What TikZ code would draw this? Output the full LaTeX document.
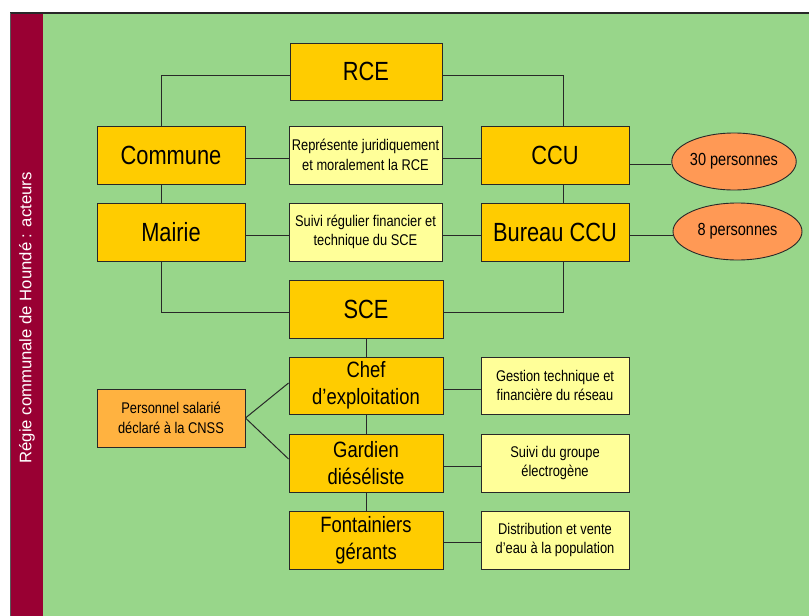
\documentclass[tikz,border=0pt]{standalone}
\usepackage{fontspec}
\setmainfont{Liberation Sans}
\newfontfamily\nf[FakeStretch=0.83]{Liberation Sans}
\usetikzlibrary{shapes.geometric,calc}
\definecolor{bggreen}{RGB}{152,214,138}
\definecolor{maroon}{RGB}{153,0,51}
\definecolor{gold}{RGB}{255,204,0}
\definecolor{lyellow}{RGB}{255,255,153}
\definecolor{porange}{RGB}{255,178,64}
\definecolor{eorange}{RGB}{255,153,85}
\definecolor{edge}{RGB}{40,40,40}
\tikzset{
  bigbox/.style={draw=edge,line width=0.9pt,fill=gold,minimum width=150pt,minimum height=57pt,inner sep=0pt,align=center,font=\nf\fontsize{26.3}{30}\selectfont},
  midbox/.style={draw=edge,line width=0.9pt,fill=gold,minimum width=154pt,minimum height=57pt,inner sep=0pt,align=center,font=\nf\fontsize{22.2}{27}\selectfont},
  notebox/.style={draw=edge,line width=0.9pt,fill=lyellow,minimum width=150pt,minimum height=57pt,inner sep=0pt,align=center,font=\nf\fontsize{15.5}{19.5}\selectfont},
  persbox/.style={draw=edge,line width=0.9pt,fill=porange,minimum width=148pt,minimum height=58pt,inner sep=0pt,align=center,font=\nf\fontsize{15.5}{19.5}\selectfont},
  countell/.style={ellipse,draw=edge,line width=0.9pt,fill=eorange,inner sep=0pt,align=center,font=\nf\fontsize{17.5}{20}\selectfont},
  link/.style={draw=edge,line width=1pt}
}
\begin{document}
\begin{tikzpicture}[x=1pt,y=-1pt]
\useasboundingbox (0,0) rectangle (809,616);
\clip (0,0) rectangle (809,616);
% background
\fill[bggreen] (10,13) rectangle (830,640);
\fill[maroon] (10,13) rectangle (43,640);
\draw[edge,line width=1.6pt] (10,13) -- (830,13);
\draw[gray!70!black,line width=0.8pt] (10,13) -- (10,640);
\node[rotate=90,text=white,font=\fontsize{16.7}{20}\selectfont] (title) at (27,318) {Régie communale de Houndé : acteurs};

% top level
\node[bigbox,minimum width=152pt] (rce) at (366,71.5) {RCE};
\node[bigbox,minimum width=148pt,minimum height=58pt] (commune) at (171,155) {Commune};
\node[notebox,minimum width=153pt,minimum height=58pt] (rep) at (365.5,155) {Représente juridiquement\\et moralement la RCE};
\node[bigbox,minimum width=148pt,minimum height=58pt] (ccu) at (555,155) {CCU};
\node[countell,minimum width=122pt,minimum height=57pt] (e30) at (734,161.5) {30 personnes};

\node[bigbox,minimum width=148pt,minimum height=58pt] (mairie) at (171,232) {Mairie};
\node[notebox,minimum width=153pt,minimum height=58pt] (suivi) at (365.5,232) {Suivi régulier financier et\\technique du SCE};
\node[bigbox,minimum width=148pt,minimum height=58pt] (bureau) at (555,232) {Bureau CCU};
\node[countell,minimum width=129pt,minimum height=57pt] (e8) at (737.5,231.5) {8 personnes};

\node[bigbox,minimum width=154pt,minimum height=58pt] (sce) at (366,309) {SCE};

% staff
\node[midbox] (chef) at (366,385.5) {Chef\\d’exploitation};
\node[notebox,minimum width=148pt] (gest) at (555,385.5) {Gestion technique et\\financière du réseau};
\node[midbox,minimum height=58pt] (gard) at (366,463) {Gardien\\diéséliste};
\node[notebox,minimum width=148pt,minimum height=58pt] (groupe) at (555,463) {Suivi du groupe\\électrogène};
\node[midbox,minimum height=58pt] (font) at (366,540) {Fontainiers\\gérants};
\node[notebox,minimum width=148pt,minimum height=58pt] (distr) at (555,540) {Distribution et vente\\d’eau à la population};
\node[persbox] (pers) at (171,418) {Personnel salarié\\déclaré à la CNSS};

% connectors
\draw[link] ([yshift=-3.5pt]rce.west) -| ([xshift=-10pt]commune.north);
\draw[link] ([yshift=-3.5pt]rce.east) -| ([xshift=8pt]ccu.north);
\draw[link] ([yshift=-3pt]commune.east) -- ([yshift=-3pt]rep.west);
\draw[link] ([yshift=-3pt]rep.east) -- ([yshift=-3pt]ccu.west);
\draw[link] ([yshift=-2.5pt]e30.west) -- ([yshift=-2.5pt]ccu.east |- e30.west);
\draw[link] ([xshift=-10pt]commune.south) -- ([xshift=-10pt]mairie.north);
\draw[link] ([xshift=8pt]ccu.south) -- ([xshift=8pt]bureau.north);
\draw[link] ([yshift=-3.5pt]mairie.east) -- ([yshift=-3.5pt]suivi.west);
\draw[link] ([yshift=-3.5pt]suivi.east) -- ([yshift=-3.5pt]bureau.west);
\draw[link] ([yshift=-4pt]e8.west) -- ([yshift=-4pt]bureau.east |- e8.west);
\draw[link] ([xshift=-10pt]mairie.south) |- ([yshift=-3pt]sce.west);
\draw[link] ([xshift=8pt]bureau.south) |- ([yshift=-3pt]sce.east);
\draw[link] (sce.south) -- (chef.north);
\draw[link] (chef.south) -- (gard.north);
\draw[link] (gard.south) -- (font.north);
\draw[link] ([yshift=-3.5pt]chef.east) -- ([yshift=-3.5pt]gest.west);
\draw[link] ([yshift=-3pt]gard.east) -- ([yshift=-3pt]groupe.west);
\draw[link] ([yshift=-2pt]font.east) -- ([yshift=-2pt]distr.west);
\draw[link] (pers.east) -- ([yshift=2.5pt]chef.west);
\draw[link] (pers.east) -- ([yshift=4pt]gard.west);
\end{tikzpicture}
\end{document}
